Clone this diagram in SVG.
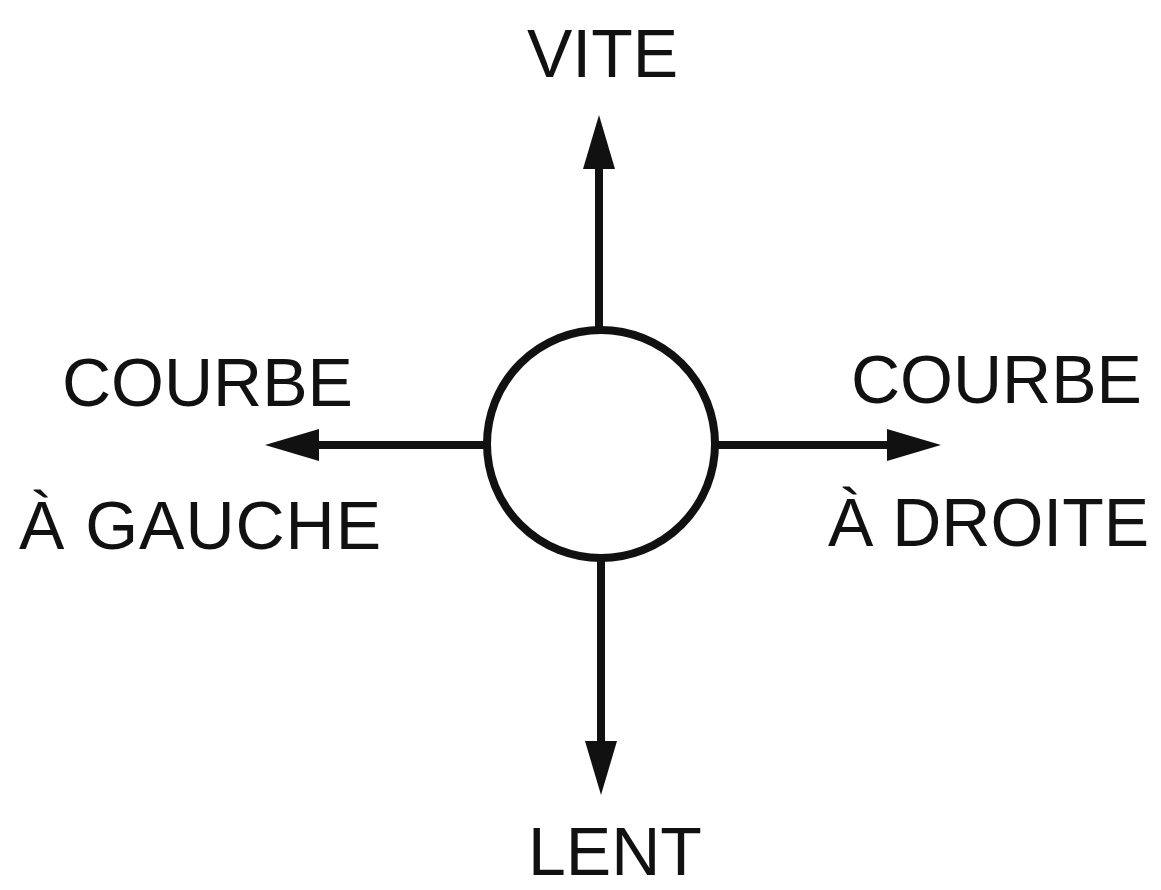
<svg xmlns="http://www.w3.org/2000/svg" width="1161" height="890" viewBox="0 0 1161 890">
<style>
.lbl{font-family:"Liberation Sans",Arial,Helvetica,sans-serif;font-size:68px;fill:#111}
.con{stroke:#111;stroke-width:8;fill:none}
</style>
<defs>
<marker id="ah" markerUnits="userSpaceOnUse" markerWidth="60" markerHeight="40" viewBox="0 -20 60 40" refX="1" refY="0" orient="auto">
<path d="M0,-16 L54,0 L0,16 Z" fill="#111"/>
</marker>
</defs>
<rect width="1161" height="890" fill="#fff"/>
<g id="connectors">
<line class="con" x1="599" y1="334" x2="599" y2="168" marker-end="url(#ah)"/>
<line class="con" x1="601" y1="555" x2="601" y2="742" marker-end="url(#ah)"/>
<line class="con" x1="487" y1="445" x2="318" y2="445" marker-end="url(#ah)"/>
<line class="con" x1="716" y1="445" x2="888" y2="445" marker-end="url(#ah)"/>
</g>
<g id="center">
<circle cx="601" cy="444" r="114" fill="#fff" stroke="#111" stroke-width="8"/>
</g>
<g id="vite"><text class="lbl" x="527" y="77">VITE</text></g>
<g id="lent"><text class="lbl" x="528" y="875">LENT</text></g>
<g id="gauche">
<text class="lbl" x="62" y="406">COURBE</text>
<text class="lbl" x="19" y="549" textLength="362">À GAUCHE</text>
</g>
<g id="droite">
<text class="lbl" x="851" y="403">COURBE</text>
<text class="lbl" x="828" y="546">À DROITE</text>
</g>
</svg>
